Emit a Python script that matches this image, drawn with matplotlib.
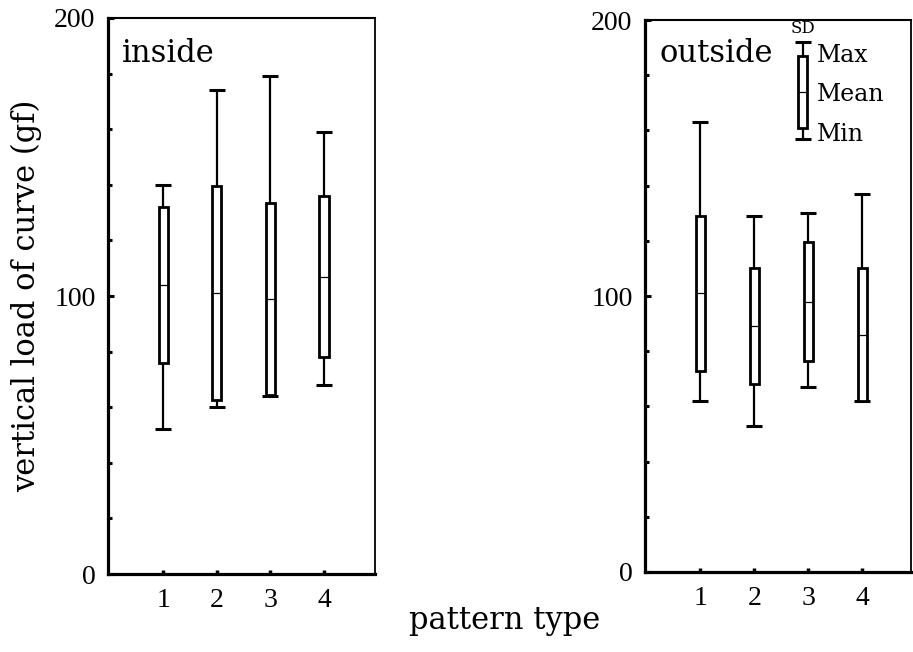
import matplotlib.pyplot as plt

# pattern types
patterns = [1, 2, 3, 4]

# inside curve: mean, SD, max, min (gf)
in_mean = [104, 101, 99, 107]
in_sd = [28, 38.5, 34.5, 29]
in_max = [140, 174, 179, 159]
in_min = [52, 60, 64, 68]

# outside curve
out_mean = [101, 89, 98, 86]
out_sd = [28, 21, 21.5, 24]
out_max = [163, 129, 130, 137]
out_min = [62, 53, 67, 62]

# key glyph in the outside panel
key_x = 2.9
key_mean, key_sd, key_max, key_min = 174, 13, 192, 157

serif = 'DejaVu Serif'
num_font = 'Liberation Serif'
box_w = 0.17


def draw_boxes(ax, xs, means, sds, maxs, mins):
    lo = [m - mn for m, mn in zip(means, mins)]
    hi = [mx - m for m, mx in zip(means, maxs)]
    ax.errorbar(xs, means, yerr=[lo, hi], fmt='none', ecolor='black',
                elinewidth=1.6, capsize=6, capthick=2.2, zorder=2)
    bottoms = [m - s for m, s in zip(means, sds)]
    heights = [2 * s for s in sds]
    ax.bar(xs, heights, bottom=bottoms, width=box_w, facecolor='white',
           edgecolor='black', linewidth=2.0, zorder=3)
    for x, m in zip(xs, means):
        ax.hlines(m, x - box_w / 2, x + box_w / 2, color='black',
                  linewidth=0.9, zorder=4)


def style_axes(ax):
    ax.set_ylim(0, 200)
    ax.set_xticks(patterns)
    ax.set_yticks([0, 100, 200])
    ax.set_yticks(range(0, 201, 20), minor=True)
    ax.tick_params(axis='both', which='both', direction='in', color='black')
    ax.tick_params(axis='y', which='major', length=4, width=2.2, pad=9)
    ax.tick_params(axis='y', which='minor', length=3, width=2.2)
    ax.tick_params(axis='x', which='major', length=3, width=2.5, pad=10)
    ax.tick_params(axis='x', which='minor', bottom=False)
    for lab in ax.get_xticklabels() + ax.get_yticklabels():
        lab.set_fontfamily(num_font)
        lab.set_fontsize(20)
    ax.spines['left'].set_linewidth(2.3)
    ax.spines['bottom'].set_linewidth(2.3)
    ax.spines['top'].set_linewidth(1.5)
    ax.spines['right'].set_linewidth(1.3)


fig = plt.figure(figsize=(9.13, 6.52), dpi=100)
ax1 = fig.add_axes([0.1183, 0.1196, 0.2924, 0.8528])
ax2 = fig.add_axes([0.7065, 0.1227, 0.2913, 0.8466])

draw_boxes(ax1, patterns, in_mean, in_sd, in_max, in_min)
ax1.set_xlim(-0.03, 4.95)
style_axes(ax1)
ax1.text(0.052, 0.937, 'inside', transform=ax1.transAxes, ha='left',
         va='center', fontsize=22, family=serif)

draw_boxes(ax2, patterns, out_mean, out_sd, out_max, out_min)
ax2.set_xlim(-0.02, 4.9)
style_axes(ax2)
ax2.text(0.056, 0.94, 'outside', transform=ax2.transAxes, ha='left',
         va='center', fontsize=22, family=serif)

# key
draw_boxes(ax2, [key_x], [key_mean], [key_sd], [key_max], [key_min])
ax2.text(key_x, 197, 'SD', ha='center', va='center', fontsize=12, family=serif)
ax2.text(key_x + 0.25, 187, 'Max', ha='left', va='center', fontsize=17, family=serif)
ax2.text(key_x + 0.25, 173, 'Mean', ha='left', va='center', fontsize=17, family=serif)
ax2.text(key_x + 0.25, 158.5, 'Min', ha='left', va='center', fontsize=17, family=serif)

fig.text(27 / 913, 1 - 296 / 652, 'vertical load of curve (gf)', rotation=90,
         ha='center', va='center', fontsize=22, family=serif)
fig.text(505 / 913, 1 - 621 / 652, 'pattern type', ha='center', va='center',
         fontsize=22, family=serif)

fig.savefig('out.png', dpi=100)
